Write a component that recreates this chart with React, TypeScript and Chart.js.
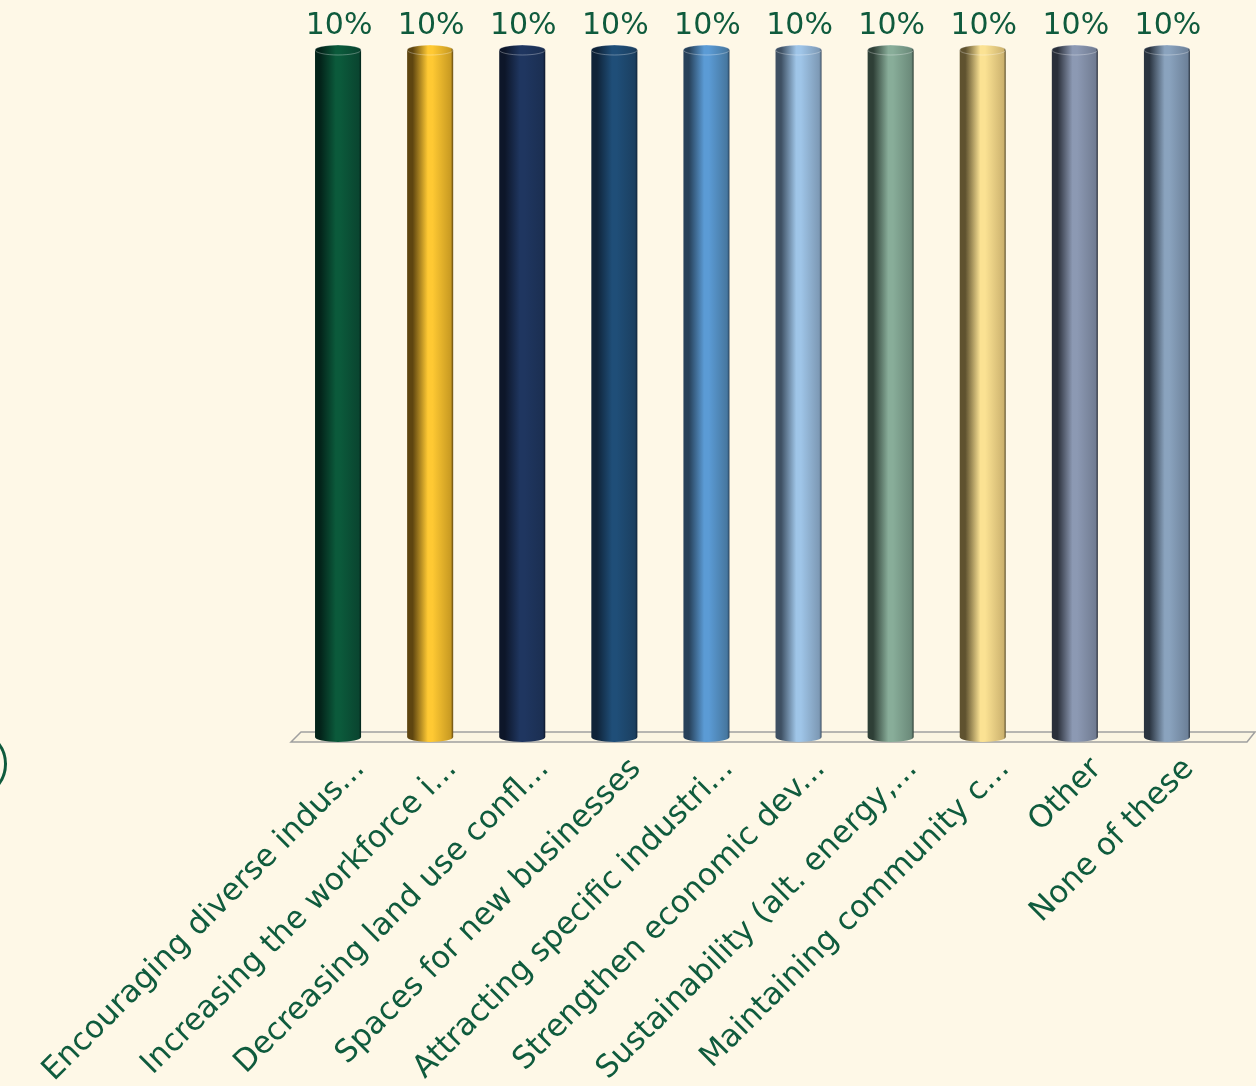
import React, { useEffect, useRef } from "react";
import { Chart, registerables } from "chart.js";

Chart.register(...registerables);

const categories = [
  "Encouraging diverse indus...",
  "Increasing the workforce i...",
  "Decreasing land use confl...",
  "Spaces for new businesses",
  "Attracting specific industri...",
  "Strengthen economic dev...",
  "Sustainability (alt. energy,...",
  "Maintaining community c...",
  "Other",
  "None of these",
];

const values = [10, 10, 10, 10, 10, 10, 10, 10, 10, 10];

// [left edge shade, highlight, right tone]
const palette = [
  ["#03241a", "#0b5a3b", "#0a4530"],
  ["#5e4510", "#ffc933", "#c89a22"],
  ["#0d1629", "#1f3660", "#1b2f52"],
  ["#0f2338", "#1f4e78", "#1b3f60"],
  ["#27415a", "#5b9bd5", "#46779f"],
  ["#3e5063", "#9fc5e8", "#7d99b5"],
  ["#2e3f36", "#88ad99", "#6b8a7a"],
  ["#5f522f", "#fbe293", "#cdb36f"],
  ["#2a2f3a", "#8c99b3", "#717c92"],
  ["#2a3440", "#8aa3be", "#6d8199"],
];

const BG = "#fef8e7";
const GREEN = "#0f5b3d";
const FONT = "'DejaVu Sans', Verdana, sans-serif";

export default function App() {
  const ref = useRef<HTMLCanvasElement | null>(null);

  useEffect(() => {
    if (!ref.current) return;

    const barPct = 0.5;

    const floorPlugin = {
      id: "floor",
      beforeDatasetsDraw(chart: any) {
        const { ctx, chartArea } = chart;
        const yb = chartArea.bottom;
        ctx.save();
        ctx.beginPath();
        ctx.moveTo(chartArea.left - 1, yb + 5);
        ctx.lineTo(chartArea.left + 9, yb - 5);
        ctx.lineTo(chartArea.right + 42, yb - 5);
        ctx.lineTo(chartArea.right + 34, yb + 5);
        ctx.closePath();
        ctx.fillStyle = "#fbf5e2";
        ctx.fill();
        ctx.strokeStyle = "#a0a0a0";
        ctx.lineWidth = 1.5;
        ctx.stroke();
        ctx.restore();
      },
    };

    const capsPlugin = {
      id: "caps",
      afterDatasetsDraw(chart: any) {
        const { ctx } = chart;
        const meta = chart.getDatasetMeta(0);
        ctx.save();
        meta.data.forEach((bar: any, i: number) => {
          const w = bar.width;
          const fill = bar.options.backgroundColor;
          // bottom
          ctx.beginPath();
          ctx.ellipse(bar.x, bar.base, w / 2, 5, 0, 0, Math.PI);
          ctx.fillStyle = fill;
          ctx.fill();
          // top
          ctx.beginPath();
          ctx.ellipse(bar.x, bar.y, w / 2, 5, 0, 0, Math.PI * 2);
          ctx.fillStyle = fill;
          ctx.fill();
          ctx.strokeStyle = "rgba(255,255,255,0.3)";
          ctx.lineWidth = 1;
          ctx.stroke();
          // value label
          ctx.fillStyle = GREEN;
          ctx.font = `30px ${FONT}`;
          ctx.textAlign = "center";
          ctx.textBaseline = "alphabetic";
          ctx.fillText(`${values[i]}%`, bar.x + 1, bar.y - 16);
        });
        ctx.restore();
      },
    };

    const chart = new Chart(ref.current, {
      type: "bar",
      data: {
        labels: categories,
        datasets: [
          {
            data: values,
            barPercentage: barPct,
            categoryPercentage: 1,
            borderWidth: 0,
            backgroundColor: (c: any) => {
              const ch = c.chart;
              const xs = ch.scales && ch.scales.x;
              const p = palette[c.dataIndex % palette.length];
              if (!xs || !ch.chartArea) return p[1];
              const cx = xs.getPixelForValue(c.dataIndex);
              const w = (xs.width / categories.length) * barPct;
              const g = ch.ctx.createLinearGradient(cx - w / 2, 0, cx + w / 2, 0);
              g.addColorStop(0, p[0]);
              g.addColorStop(0.12, p[0]);
              g.addColorStop(0.45, p[1]);
              g.addColorStop(0.55, p[1]);
              g.addColorStop(0.95, p[2]);
              g.addColorStop(1, p[0]);
              return g;
            },
          },
        ],
      },
      options: {
        responsive: false,
        animation: false,
        layout: { padding: { left: 292, right: 43, top: 50, bottom: 0 } },
        plugins: {
          legend: { display: false },
          tooltip: { enabled: false },
        },
        scales: {
          y: { display: false, min: 0, max: 10 },
          x: {
            grid: { display: false, drawTicks: false },
            border: { display: false },
            ticks: {
              autoSkip: false,
              maxRotation: 45,
              minRotation: 45,
              color: GREEN,
              font: { size: 31, family: FONT },
              padding: 14,
              labelOffset: 22,
            },
            afterFit: (s: any) => {
              s.paddingLeft = 0;
              s.paddingRight = 0;
              s.height = 1086 - 737;
            },
          },
        },
      },
      plugins: [floorPlugin, capsPlugin],
    });

    return () => chart.destroy();
  }, []);

  return (
    <div
      style={{
        position: "absolute",
        left: 0,
        top: 0,
        width: 1256,
        height: 1086,
        background: BG,
        overflow: "hidden",
      }}
    >
      <div
        style={{
          position: "absolute",
          left: -63,
          top: 729,
          width: 70,
          height: 70,
          borderRadius: "50%",
          border: `3px solid ${GREEN}`,
          boxSizing: "border-box",
        }}
      />
      <canvas
        ref={ref}
        width={1256}
        height={1086}
        style={{ position: "absolute", left: 0, top: 0, display: "block" }}
      />
    </div>
  );
}
